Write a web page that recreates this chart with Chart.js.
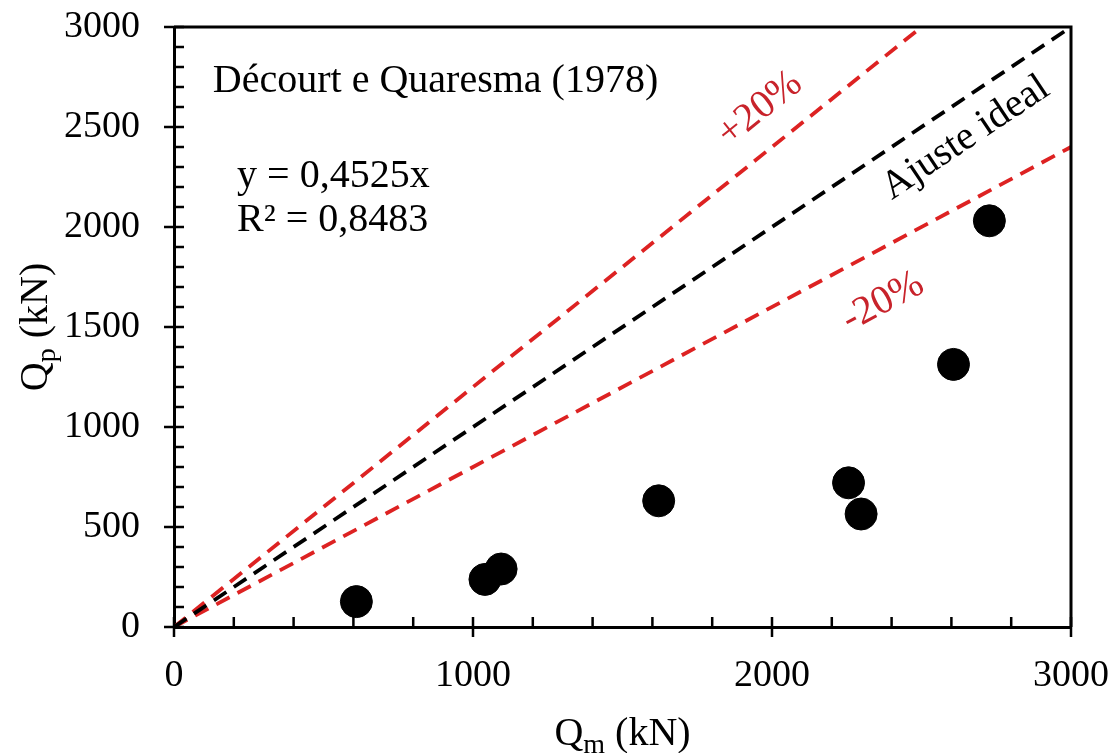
<!DOCTYPE html>
<html lang="pt">
<head>
<meta charset="utf-8">
<title>Décourt e Quaresma (1978)</title>
<script src="https://cdn.jsdelivr.net/npm/chart.js@4.4.1/dist/chart.umd.min.js"></script>
<style>
  html, body { margin: 0; padding: 0; background: #fff; }
  #wrap { width: 1119px; height: 753px; }
</style>
</head>
<body>
<div id="wrap"><canvas id="grafico"></canvas></div>
<script>
/* Carga medida (Qm) x carga prevista (Qp) — método Décourt e Quaresma */

// ── Dados (kN) ───────────────────────────────────────────────
const QM = [610, 1040, 1094, 1621, 2256, 2298, 2607, 2727];
const QP = [127, 238, 290, 631, 721, 565, 1313, 2031];

// Retas de referência: ajuste ideal e faixa de ±20%
const IDEAL_X   = [0, 3000];
const IDEAL_Y   = [0, 3000];
const MAIS20_X  = [0, 2500];
const MAIS20_Y  = [0, 3000];
const MENOS20_X = [0, 3000];
const MENOS20_Y = [0, 2400];

const X_TICKS = [0, 1000, 2000, 3000];
const Y_TICKS = [0, 500, 1000, 1500, 2000, 2500, 3000];

// ── Estilo ───────────────────────────────────────────────────
const FONTE    = '"Liberation Serif", "Times New Roman", serif';
const VERMELHO = '#dd2222';
const TXT_VERM = '#c8232b';

const pares = (xs, ys) => xs.map((v, i) => ({ x: v, y: ys[i] }));

function reta(xs, ys, cor) {
  return {
    type: 'line',
    data: pares(xs, ys),
    borderColor: cor,
    borderWidth: 3.8,
    borderDash: [15, 9],
    pointRadius: 0,
    fill: false,
  };
}

// O espaço do gráfico fica só por conta do layout.padding
function semFolga(s) {
  s.paddingTop = s.paddingBottom = s.paddingLeft = s.paddingRight = 0;
}

/** Escreve "Q" + índice + " (kN)" centrado em (0,0), base na linha 0 */
function tituloComIndice(ctx, base, indice, resto, size) {
  const fGrande  = `${size}px ${FONTE}`;
  const fPequena = `${Math.round(size * 0.7)}px ${FONTE}`;
  ctx.font = fGrande;
  const w1 = ctx.measureText(base).width;
  const w3 = ctx.measureText(resto).width;
  ctx.font = fPequena;
  const w2 = ctx.measureText(indice).width;
  let px = -(w1 + w2 + w3) / 2;
  ctx.textAlign = 'left';
  ctx.textBaseline = 'alphabetic';
  ctx.font = fGrande;   ctx.fillText(base, px, 0);            px += w1;
  ctx.font = fPequena;  ctx.fillText(indice, px, size * 0.2); px += w2;
  ctx.font = fGrande;   ctx.fillText(resto, px, 0);
}

const moldura = {
  id: 'moldura',
  afterDatasetsDraw(chart) {
    const { ctx, chartArea: a, scales: { x, y } } = chart;
    ctx.save();

    // borda superior e direita
    ctx.strokeStyle = '#000';
    ctx.lineWidth = 3;
    ctx.beginPath();
    ctx.moveTo(a.left, a.top);
    ctx.lineTo(a.right, a.top);
    ctx.lineTo(a.right, a.bottom);
    ctx.stroke();

    // marcas: secundárias para dentro, principais cruzando o eixo
    ctx.lineWidth = 2.5;
    ctx.beginPath();
    for (let v = 0; v <= 3000; v += 200) {
      const px = x.getPixelForValue(v);
      const principal = v % 1000 === 0;
      ctx.moveTo(px, a.bottom + (principal ? 10 : 0));
      ctx.lineTo(px, a.bottom - 10);
    }
    for (let v = 0; v <= 3000; v += 100) {
      const py = y.getPixelForValue(v);
      const principal = v % 500 === 0;
      ctx.moveTo(a.left - (principal ? 10 : 0), py);
      ctx.lineTo(a.left + 10, py);
    }
    ctx.stroke();

    // textos fixos
    ctx.fillStyle = '#000';
    ctx.textAlign = 'left';
    ctx.textBaseline = 'alphabetic';
    ctx.font = `40px ${FONTE}`;
    ctx.fillText('Décourt e Quaresma (1978)', x.getPixelForValue(130), y.getPixelForValue(2675));
    ctx.fillText('y = 0,4525x', x.getPixelForValue(211), y.getPixelForValue(2200));
    ctx.fillText('R² = 0,8483', x.getPixelForValue(211), y.getPixelForValue(1980));

    // rótulos inclinados acompanhando as retas
    const inclinado = (txt, cor, vx, vy, xs, ys) => {
      const dx = x.getPixelForValue(xs[1]) - x.getPixelForValue(xs[0]);
      const dy = y.getPixelForValue(ys[1]) - y.getPixelForValue(ys[0]);
      ctx.save();
      ctx.translate(x.getPixelForValue(vx), y.getPixelForValue(vy));
      ctx.rotate(Math.atan2(dy, dx));
      ctx.fillStyle = cor;
      ctx.font = `40px ${FONTE}`;
      ctx.textAlign = 'center';
      ctx.textBaseline = 'middle';
      ctx.fillText(txt, 0, 0);
      ctx.restore();
    };
    inclinado('+20%', TXT_VERM, 1960, 2590, MAIS20_X, MAIS20_Y);
    inclinado('Ajuste ideal', '#000', 2648, 2445, IDEAL_X, IDEAL_Y);
    inclinado('-20%', TXT_VERM, 2371, 1625, MENOS20_X, MENOS20_Y);

    // títulos dos eixos com índice
    ctx.fillStyle = '#000';
    ctx.save();
    ctx.translate((a.left + a.right) / 2, a.bottom + 118);
    tituloComIndice(ctx, 'Q', 'm', ' (kN)', 40);
    ctx.restore();

    ctx.save();
    ctx.translate(a.left - 127, (a.top + a.bottom) / 2);
    ctx.rotate(-Math.PI / 2);
    tituloComIndice(ctx, 'Q', 'p', ' (kN)', 40);
    ctx.restore();

    ctx.restore();
  }
};

const grafico = new Chart(document.getElementById('grafico'), {
  type: 'scatter',
  data: {
    datasets: [
      {
        label: 'Qp x Qm',
        data: pares(QM, QP),
        backgroundColor: '#000',
        borderColor: '#000',
        pointRadius: 16,
        pointHoverRadius: 16,
      },
      reta(IDEAL_X, IDEAL_Y, '#000'),
      reta(MAIS20_X, MAIS20_Y, VERMELHO),
      reta(MENOS20_X, MENOS20_Y, VERMELHO),
    ]
  },
  plugins: [moldura],
  options: {
    responsive: true,
    maintainAspectRatio: false,
    animation: false,
    layout: { padding: { top: 27, right: 48, left: 0, bottom: 0 } },
    plugins: {
      legend: { display: false },
      tooltip: { enabled: false },
    },
    scales: {
      x: {
        type: 'linear',
        min: 0,
        max: 3000,
        afterBuildTicks: s => { s.ticks = X_TICKS.map(v => ({ value: v })); },
        afterFit: s => { s.height = 126; semFolga(s); },
        grid: { display: false, drawTicks: false },
        border: { display: true, color: '#000', width: 3 },
        ticks: {
          color: '#000', padding: 26, maxRotation: 0,
          font: { family: FONTE, size: 38 },
          callback: v => String(v),
        },
      },
      y: {
        type: 'linear',
        min: 0,
        max: 3000,
        afterBuildTicks: s => { s.ticks = Y_TICKS.map(v => ({ value: v })); },
        afterFit: s => { s.width = 174; semFolga(s); },
        grid: { display: false, drawTicks: false },
        border: { display: true, color: '#000', width: 3 },
        ticks: {
          color: '#000', padding: 34,
          font: { family: FONTE, size: 38 },
          callback: v => String(v),
        },
      }
    }
  }
});
</script>
</body>
</html>
